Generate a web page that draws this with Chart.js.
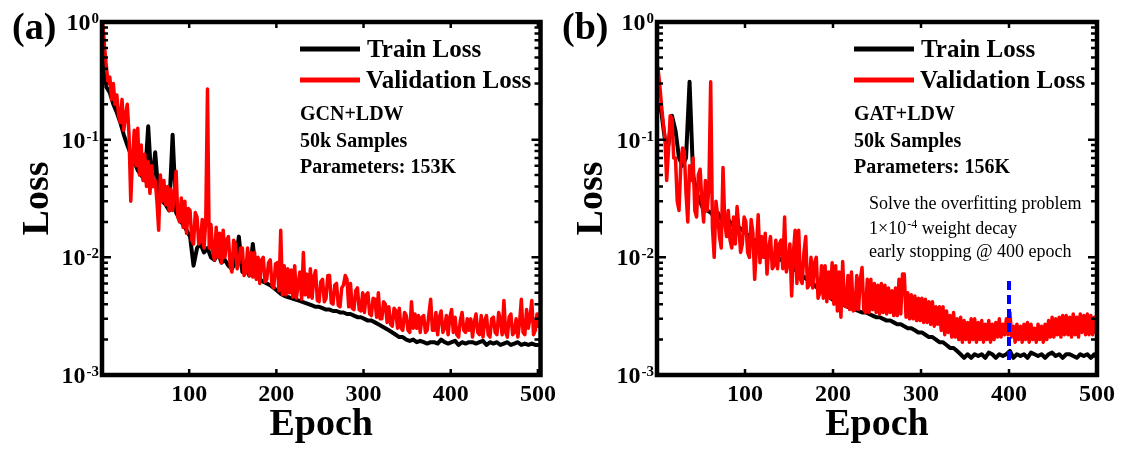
<!DOCTYPE html>
<html>
<head>
<meta charset="utf-8">
<script src="https://cdn.jsdelivr.net/npm/chart.js@4.4.1/dist/chart.umd.min.js"></script>
<style>
  html, body { margin: 0; padding: 0; background: #fff; }
  #wrap { position: relative; width: 1123px; height: 450px; overflow: hidden; }
  canvas { position: absolute; top: 0; }
</style>
</head>
<body>
<div id="wrap">
  <canvas id="chartA" width="561" height="450" style="left:0"></canvas>
  <canvas id="chartB" width="562" height="450" style="left:561px"></canvas>
</div>
<script>
// train loss read every 4 epochs, validation loss every 2 epochs, plus epoch 500
const epochs = Array.from({ length: 125 }, (_, i) => 1 + 4 * i).concat([500]);
const epochsFine = Array.from({ length: 250 }, (_, i) => 1 + 2 * i).concat([500]);
const epochTicks = [100, 200, 300, 400, 500];
const lossTicks = [0.001, 0.01, 0.1, 1];

// (a) GCN+LDW
const trainA = [
  0.85, 0.28, 0.25, 0.20, 0.17, 0.14, 0.11, 0.09, 0.075, 0.065,
  0.055, 0.05, 0.045, 0.13, 0.04, 0.078, 0.033, 0.03, 0.028, 0.025,
  0.11, 0.024, 0.021, 0.019, 0.017, 0.015, 0.0085, 0.012, 0.013, 0.011,
  0.012, 0.010, 0.0095, 0.011, 0.009, 0.0095, 0.0085, 0.008, 0.009, 0.015,
  0.0075, 0.008, 0.007, 0.013, 0.0068, 0.0065, 0.0062, 0.006, 0.0058, 0.0055,
  0.0052, 0.0049, 0.0047, 0.0046, 0.0045, 0.0044, 0.0043, 0.0042, 0.0041, 0.004,
  0.0039, 0.0038, 0.0038, 0.0037, 0.0036, 0.0036, 0.0035, 0.0035, 0.0034, 0.0034,
  0.0033, 0.0033, 0.0032, 0.0031, 0.0031, 0.003, 0.0029, 0.0029, 0.0028, 0.0027,
  0.0026, 0.0025, 0.0024, 0.0023, 0.0022, 0.0021, 0.0021, 0.002, 0.00195, 0.002,
  0.0019, 0.00195, 0.0019, 0.00185, 0.0019,
  0.0019, 0.00185, 0.002, 0.0019, 0.00185, 0.0019, 0.00195, 0.0018, 0.0019, 0.00185,
  0.0019, 0.0019, 0.00185, 0.0019, 0.00195, 0.0018, 0.0019, 0.00185, 0.0019, 0.0018,
  0.00185, 0.0019, 0.0018, 0.00185, 0.0019, 0.0018, 0.00185, 0.0018, 0.00185, 0.0018,
  0.0018
];
const valA = [
  0.95, 0.6, 0.42, 0.3, 0.34, 0.22, 0.3, 0.2, 0.24, 0.16,
  0.14, 0.22, 0.12, 0.16, 0.2, 0.11, 0.03, 0.07, 0.12, 0.06,
  0.125, 0.05, 0.09, 0.045, 0.075, 0.04, 0.065, 0.035, 0.06, 0.04,
  0.045, 0.03, 0.017, 0.05, 0.03, 0.045, 0.028, 0.04, 0.025, 0.038,
  0.025, 0.035, 0.054, 0.022, 0.02, 0.032, 0.018, 0.03, 0.016, 0.026,
  0.025, 0.014, 0.013, 0.024, 0.022, 0.013, 0.014, 0.021, 0.012, 0.02,
  0.27, 0.012, 0.019, 0.011, 0.0095, 0.018, 0.01, 0.016, 0.009, 0.017,
  0.01, 0.014, 0.015, 0.0085, 0.0075, 0.014, 0.013, 0.008, 0.009, 0.012,
  0.012, 0.007, 0.0075, 0.012, 0.007, 0.011, 0.0068, 0.011, 0.0065, 0.01,
  0.006, 0.0095, 0.01, 0.0062, 0.0065, 0.009, 0.0095, 0.0058, 0.0055, 0.0088,
  0.009, 0.0052, 0.017, 0.0048, 0.0085, 0.0048, 0.008, 0.005, 0.0078, 0.0046,
  0.0085, 0.0045, 0.006, 0.0075, 0.0044, 0.011, 0.0048, 0.0072, 0.0046, 0.008,
  0.0045, 0.0068, 0.0077, 0.0043, 0.0042, 0.0062, 0.0065, 0.0042, 0.0045, 0.007,
  0.007, 0.0041, 0.004, 0.0058, 0.006, 0.0039, 0.0038, 0.0055, 0.0058, 0.007,
  0.0065, 0.0038, 0.006, 0.0037, 0.0036, 0.0052, 0.0055, 0.0036, 0.0035, 0.005,
  0.0034, 0.0048, 0.005, 0.0033, 0.0032, 0.0045, 0.0044, 0.0031, 0.005, 0.003,
  0.003, 0.0042, 0.004, 0.0028, 0.0038, 0.0027, 0.0026, 0.0037, 0.0035, 0.0025,
  0.0037, 0.0025, 0.0024, 0.0034, 0.0032, 0.0024, 0.0023, 0.0042, 0.0025, 0.0033,
  0.0025, 0.0032, 0.0023, 0.0031, 0.0032, 0.0023, 0.0024, 0.0033, 0.0044, 0.0024,
  0.0024, 0.0034, 0.0022, 0.0031, 0.0035, 0.0023, 0.0025, 0.0032, 0.0022, 0.0031,
  0.0036, 0.0023, 0.0031, 0.0022, 0.0021, 0.0029, 0.0034, 0.0024, 0.0023, 0.003,
  0.0024, 0.003, 0.0021, 0.0028, 0.0033, 0.0023, 0.0022, 0.0032, 0.0021, 0.0029,
  0.0032, 0.0022, 0.0021, 0.003, 0.0031, 0.0023, 0.0022, 0.0034, 0.0029, 0.0022,
  0.0043, 0.0023, 0.0021, 0.0031, 0.0033, 0.0022, 0.0023, 0.003, 0.0021, 0.0028,
  0.0044, 0.0023, 0.0022, 0.0036, 0.0025, 0.0031, 0.0043, 0.0022, 0.0024, 0.0033,
  0.0026
];

// (b) GAT+LDW
const trainB = [
  0.2, 0.17, 0.1, 0.09, 0.16, 0.12, 0.07, 0.06, 0.07, 0.31,
  0.05, 0.035, 0.03, 0.025, 0.025, 0.024, 0.022, 0.024, 0.021, 0.02,
  0.021, 0.019, 0.02, 0.018, 0.017, 0.016, 0.015, 0.014, 0.014, 0.013,
  0.012, 0.012, 0.011, 0.0105, 0.01, 0.0095, 0.009, 0.0088, 0.0082, 0.0078,
  0.0075, 0.007, 0.0066, 0.0063, 0.006, 0.0056, 0.0053, 0.005, 0.0048, 0.0045,
  0.0043, 0.0041, 0.004, 0.0039, 0.0038, 0.0037, 0.0036, 0.0035, 0.0034, 0.0034,
  0.0033, 0.0032, 0.0031, 0.0031, 0.003, 0.0029, 0.0029, 0.0028, 0.0027, 0.0027,
  0.0026, 0.0025, 0.0025, 0.0024, 0.0023, 0.0023, 0.0022, 0.0021, 0.0021, 0.002,
  0.0019, 0.0019, 0.0018, 0.0017, 0.0017, 0.0016, 0.0015, 0.0014, 0.0015, 0.0014,
  0.0015, 0.00145, 0.0015, 0.0014, 0.00155, 0.0015, 0.0014, 0.0015, 0.00145, 0.0015,
  0.0016, 0.0014, 0.0015, 0.00145, 0.0015, 0.0014, 0.00155, 0.0015, 0.00145, 0.0015,
  0.0014, 0.0015, 0.00155, 0.00145, 0.0015, 0.0014, 0.0015, 0.0015, 0.00145, 0.0014,
  0.0015, 0.00145, 0.0015, 0.0014, 0.0015,
  0.0014
];
const valB = [
  0.41, 0.3, 0.2, 0.14, 0.105, 0.045, 0.08, 0.16, 0.15, 0.07,
  0.07, 0.03, 0.025, 0.06, 0.085, 0.08, 0.035, 0.02, 0.06, 0.045,
  0.07, 0.025, 0.022, 0.05, 0.056, 0.03, 0.02, 0.045, 0.025, 0.04,
  0.31, 0.018, 0.01, 0.03, 0.022, 0.015, 0.012, 0.058, 0.02, 0.015,
  0.025, 0.014, 0.012, 0.022, 0.013, 0.027, 0.018, 0.011, 0.013, 0.022,
  0.02, 0.011, 0.01, 0.021, 0.016, 0.0065, 0.012, 0.023, 0.009, 0.015,
  0.01, 0.016, 0.0072, 0.012, 0.015, 0.008, 0.0085, 0.014, 0.008, 0.013,
  0.014, 0.008, 0.022, 0.0075, 0.009, 0.013, 0.0047, 0.011, 0.017, 0.006,
  0.017, 0.0065, 0.006, 0.011, 0.015, 0.0055, 0.0058, 0.01, 0.0055, 0.009,
  0.01, 0.0045, 0.005, 0.0085, 0.0045, 0.0085, 0.0042, 0.0075, 0.0045, 0.009,
  0.004, 0.0085, 0.0035, 0.0075, 0.0031, 0.0092, 0.004, 0.0038, 0.007, 0.0036,
  0.0075, 0.0035, 0.0036, 0.007, 0.0036, 0.0065, 0.0082, 0.0036, 0.0034, 0.0065,
  0.0034, 0.0065, 0.0036, 0.006, 0.0034, 0.0058, 0.0033, 0.006, 0.0034, 0.0058,
  0.0033, 0.0055, 0.0034, 0.0052, 0.0032, 0.0055, 0.0032, 0.0065, 0.0033, 0.0072,
  0.0072, 0.0031, 0.005, 0.003, 0.0048, 0.003, 0.0047, 0.0029, 0.0045, 0.0029,
  0.0045, 0.0028, 0.0044, 0.0028, 0.0042, 0.0027, 0.0042, 0.0026, 0.0038, 0.0027,
  0.0038, 0.0024, 0.0038, 0.0022, 0.0035, 0.0023, 0.0032, 0.0021, 0.0034, 0.0021,
  0.003, 0.002, 0.0031, 0.0019, 0.0029, 0.002, 0.0028, 0.0019, 0.003, 0.002,
  0.003, 0.0019, 0.0028, 0.002, 0.0029, 0.0019, 0.0027, 0.002, 0.0029, 0.0019,
  0.0027, 0.002, 0.0028, 0.0021, 0.003, 0.0021, 0.0027, 0.0022, 0.003, 0.0022,
  0.0034, 0.0021, 0.0026, 0.0019, 0.0027, 0.002, 0.0026, 0.0019, 0.0027, 0.002,
  0.0028, 0.0019, 0.0027, 0.002, 0.0025, 0.0019, 0.0027, 0.002, 0.0026, 0.0019,
  0.0027, 0.002, 0.0029, 0.0021, 0.0031, 0.0021, 0.003, 0.0022, 0.0031, 0.0021,
  0.0032, 0.0022, 0.0032, 0.0022, 0.0031, 0.0021, 0.0033, 0.0022, 0.0031, 0.0021,
  0.0033, 0.0023, 0.0032, 0.0022, 0.0033, 0.0022, 0.0032, 0.0022, 0.0031, 0.0023,
  0.0027
];

// early stopping marker in (b)
const stopEpoch = [400, 400];
const stopLoss = [0.0063, 0.00133];

const SERIF = '"Liberation Serif", "Times New Roman", serif';
Chart.defaults.font.family = SERIF;
Chart.defaults.font.weight = 'bold';
Chart.defaults.color = '#000';

function pts(xs, ys) {
  return ys.map((v, i) => ({ x: xs[i], y: v }));
}

function drawPow(ctx, xRight, yMid, exp) {
  ctx.font = 'bold 24px ' + SERIF;
  const wBase = ctx.measureText('10').width;
  ctx.font = 'bold 15px ' + SERIF;
  const wExp = ctx.measureText(exp).width;
  const x0 = xRight - wBase - wExp - 1;
  ctx.textAlign = 'left';
  ctx.textBaseline = 'alphabetic';
  ctx.font = 'bold 24px ' + SERIF;
  ctx.fillText('10', x0, yMid + 8);
  ctx.font = 'bold 15px ' + SERIF;
  ctx.fillText(exp, x0 + wBase + 1, yMid + 1);
}

function decor(p) {
  return {
    id: 'decor',
    afterDatasetsDraw(chart) {
      const ctx = chart.ctx;
      const a = chart.chartArea;
      const sx = chart.scales.x, sy = chart.scales.y;
      ctx.save();
      ctx.strokeStyle = '#000';
      ctx.fillStyle = '#000';

      // inward tick marks
      ctx.lineWidth = 2.5;
      ctx.beginPath();
      for (let e = -3; e <= 0; e++) {
        for (let m = 1; m <= 9; m++) {
          const v = m * Math.pow(10, e);
          if (v > 1.0001) break;
          const py = sy.getPixelForValue(v);
          const len = m === 1 ? 9 : 6;
          ctx.moveTo(a.left, py); ctx.lineTo(a.left + len, py);
          ctx.moveTo(a.right, py); ctx.lineTo(a.right - len, py);
        }
      }
      epochTicks.forEach(v => {
        const px = sx.getPixelForValue(v);
        ctx.moveTo(px, a.top); ctx.lineTo(px, a.top + 6);
        ctx.moveTo(px, a.bottom); ctx.lineTo(px, a.bottom - 6);
      });
      ctx.stroke();

      // frame
      ctx.lineWidth = 4.5;
      ctx.strokeRect(a.left, a.top, a.right - a.left, a.bottom - a.top);

      // y tick labels with superscript
      lossTicks.forEach(v => {
        const ex = Math.round(Math.log10(v));
        drawPow(ctx, a.left - 3, sy.getPixelForValue(v), String(ex));
      });

      // panel letter
      ctx.textAlign = 'left';
      ctx.textBaseline = 'alphabetic';
      ctx.font = 'bold 38px ' + SERIF;
      ctx.fillText(p.letter, p.letterX, 39);

      // legend
      ctx.lineWidth = 5;
      ctx.lineCap = 'butt';
      ctx.beginPath(); ctx.strokeStyle = '#000';
      ctx.moveTo(p.legX, 49); ctx.lineTo(p.legX + 60, 49); ctx.stroke();
      ctx.beginPath(); ctx.strokeStyle = '#ff0000';
      ctx.moveTo(p.legX, 80); ctx.lineTo(p.legX + 60, 80); ctx.stroke();
      ctx.font = 'bold 25px ' + SERIF;
      ctx.fillText('Train Loss', p.legX + 67, 57);
      ctx.fillText('Validation Loss', p.legX + 66, 88);

      ctx.font = 'bold 20px ' + SERIF;
      ctx.fillText(p.model, p.legX, 119.5);
      ctx.fillText('50k Samples', p.legX, 146.5);
      ctx.fillText(p.params, p.legX, 172.5);

      if (p.note) {
        const nx = p.legX + 15;
        ctx.font = '18px ' + SERIF;
        ctx.fillText('Solve the overfitting problem', nx, 209);
        const w1 = ctx.measureText('1\u00d710').width;
        ctx.fillText('1\u00d710', nx, 234);
        ctx.font = '12px ' + SERIF;
        ctx.fillText('-4', nx + w1 + 1, 228);
        const w2 = ctx.measureText('-4').width;
        ctx.font = '18px ' + SERIF;
        ctx.fillText(' weight decay', nx + w1 + w2 + 1, 234);
        ctx.fillText('early stopping @ 400 epoch', nx, 257);
      }
      ctx.restore();
    }
  };
}

function lossChart(id, train, val, p) {
  const datasets = [
    {
      label: 'Validation Loss', data: pts(epochsFine, val), borderColor: '#ff0000',
      borderWidth: 3.5, pointRadius: 0, tension: 0, order: 1,
      borderJoinStyle: 'round', borderCapStyle: 'round'
    },
    {
      label: 'Train Loss', data: pts(epochs, train), borderColor: '#000000',
      borderWidth: 4, pointRadius: 0, tension: 0, order: 2,
      borderJoinStyle: 'round', borderCapStyle: 'round'
    }
  ];
  if (p.note) {
    datasets.push({
      label: 'early stopping', data: pts(stopEpoch, stopLoss), borderColor: '#0000ff',
      borderWidth: 4, borderDash: [9, 5], pointRadius: 0, order: 0
    });
  }
  return new Chart(document.getElementById(id), {
    type: 'line',
    data: { datasets: datasets },
    options: {
      responsive: false,
      animation: false,
      devicePixelRatio: 1,
      layout: { padding: { top: 22, right: p.padRight, left: 0, bottom: 0 } },
      plugins: { legend: { display: false }, tooltip: { enabled: false } },
      scales: {
        x: {
          type: 'linear', min: 0, max: p.xMax,
          afterBuildTicks: s => { s.ticks = epochTicks.map(v => ({ value: v })); },
          afterFit: s => { s.height = 75; },
          grid: { display: false, drawTicks: false },
          border: { display: false },
          ticks: { color: '#000', font: { size: 24, weight: 'bold' }, padding: 5, maxRotation: 0, autoSkip: false },
          title: { display: true, text: 'Epoch', color: '#000', font: { size: 38, weight: 'bold' }, padding: { top: 0, bottom: 2 } }
        },
        y: {
          type: 'logarithmic', min: 0.001, max: 1,
          afterBuildTicks: s => { s.ticks = lossTicks.map(v => ({ value: v })); },
          afterFit: s => { s.width = p.yWidth; },
          grid: { display: false, drawTicks: false },
          border: { display: false },
          ticks: { display: false },
          title: { display: true, text: 'Loss', color: '#000', font: { size: 38, weight: 'bold' }, padding: { top: p.titlePad, bottom: 0 } }
        }
      }
    },
    plugins: [decor(p)]
  });
}

lossChart('chartA', trainA, valA, {
  letter: '(a)', letterX: 12, legX: 300, model: 'GCN+LDW', params: 'Parameters: 153K',
  xMax: 503, yWidth: 102, padRight: 16, titlePad: 15, note: false
});
lossChart('chartB', trainB, valB, {
  letter: '(b)', letterX: 1, legX: 293, model: 'GAT+LDW', params: 'Parameters: 156K',
  xMax: 500, yWidth: 96, padRight: 26, titlePad: 8, note: true
});
</script>
</body>
</html>
